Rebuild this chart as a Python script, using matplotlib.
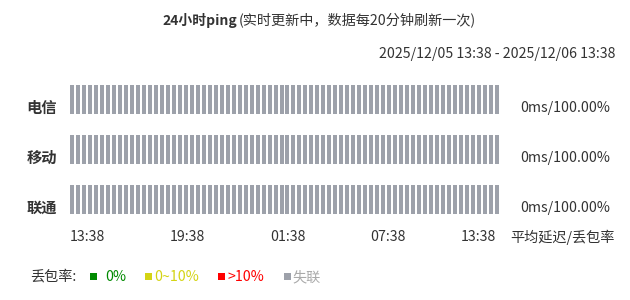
import matplotlib
matplotlib.use("Agg")
import matplotlib.pyplot as plt
import numpy as np

plt.rcParams['font.family'] = ['Noto Sans CJK SC', 'DejaVu Sans']

# ---- data ----
carriers = ["电信", "移动", "联通"]
# packet loss (%) per 20-minute interval over 24h (72 intervals), all lost
loss_telecom = [100.0] * 72
loss_mobile = [100.0] * 72
loss_unicom = [100.0] * 72
avg_latency = ["0ms", "0ms", "0ms"]
avg_loss = ["100.00%", "100.00%", "100.00%"]
time_labels = ["13:38", "19:38", "01:38", "07:38", "13:38"]
title_bold = "24小时ping"
title_rest = "(实时更新中，数据每20分钟刷新一次)"
date_range = "2025/12/05 13:38 - 2025/12/06 13:38"
legend_labels = ["0%", "0~10%", ">10%", "失联"]

# ---- styles ----
W, H = 630, 300
C_GREEN, C_YELLOW, C_RED, C_GRAY = "#008a00", "#d4d414", "#ff0000", "#9da1aa"
TXT = "#333333"
FS = 10.2

def status_color(v):
    if v >= 100:
        return C_GRAY
    if v > 10:
        return C_RED
    if v > 0:
        return C_YELLOW
    return C_GREEN

fig = plt.figure(figsize=(W / 100, H / 100), dpi=100)
fig.patch.set_facecolor("white")

def fx(px):
    return px / W

def fy(py):
    return 1 - py / H

# axes for bars: x 70..499 px, y 85..214 px
ax = fig.add_axes([fx(70), fy(214), fx(499) - fx(70), (214 - 85) / H])
ax.set_axis_off()

series = [loss_telecom, loss_mobile, loss_unicom]
n = len(loss_telecom)
bw = 0.67
bh = 0.58
for k, vals in enumerate(series):
    row_y = len(series) - 1 - k
    x = np.arange(len(vals))
    cols = [status_color(v) for v in vals]
    ax.bar(x, [bh] * len(vals), bottom=row_y - bh / 2, width=bw, color=cols,
           edgecolor="none")
ax.set_xlim(-bw / 2, n - 1 + bw / 2)
ax.set_ylim(-bh / 2, len(series) - 1 + bh / 2)

# row labels and summary
for k, name in enumerate(carriers):
    row_y = len(series) - 1 - k
    ax.text(-0.03, row_y - 0.17, name, transform=ax.get_yaxis_transform(),
            ha="right", va="center", fontsize=11, fontweight="bold", color=TXT)
    ax.text(1.05, row_y - 0.17, f"{avg_latency[k]}/{avg_loss[k]}",
            transform=ax.get_yaxis_transform(), ha="left", va="center",
            fontsize=FS, color=TXT)

# time labels
ty = fy(237)
for i, lab in enumerate(time_labels):
    if i < len(time_labels) - 1:
        fig.text(fx(70 + 100 * i), ty, lab, ha="left", va="center",
                 fontsize=FS, color=TXT)
    else:
        fig.text(fx(496), ty, lab, ha="right", va="center",
                 fontsize=FS, color=TXT)
fig.text(fx(510), ty, "平均延迟/丢包率", ha="left", va="center",
         fontsize=FS, color=TXT)

# title
fig.text(fx(237), fy(20), title_bold, ha="right", va="center",
         fontsize=10, fontweight="bold", color=TXT)
fig.text(fx(239), fy(20), title_rest, ha="left", va="center",
         fontsize=FS, color=TXT)
fig.text(fx(615), fy(54), date_range, ha="right", va="center",
         fontsize=FS, color=TXT)

# legend
ly = fy(277)
fig.text(fx(30), ly, "丢包率:", ha="left", va="center", fontsize=FS, color=TXT)
leg_cols = [C_GREEN, C_YELLOW, C_RED, C_GRAY]
leg_txt_cols = [C_GREEN, C_YELLOW, C_RED, "#aaaaaa"]
sq_x = [90, 145, 218, 284]
tx_x = [105, 154, 228, 292]
for i, lab in enumerate(legend_labels):
    fig.patches.append(plt.Rectangle((fx(sq_x[i]), fy(280)), 7 / W, 7 / H,
                                     transform=fig.transFigure,
                                     facecolor=leg_cols[i], edgecolor="none"))
    fig.text(fx(tx_x[i]), ly, lab, ha="left", va="center", fontsize=FS,
             color=leg_txt_cols[i])

fig.savefig("out.png", dpi=100, facecolor="white")
